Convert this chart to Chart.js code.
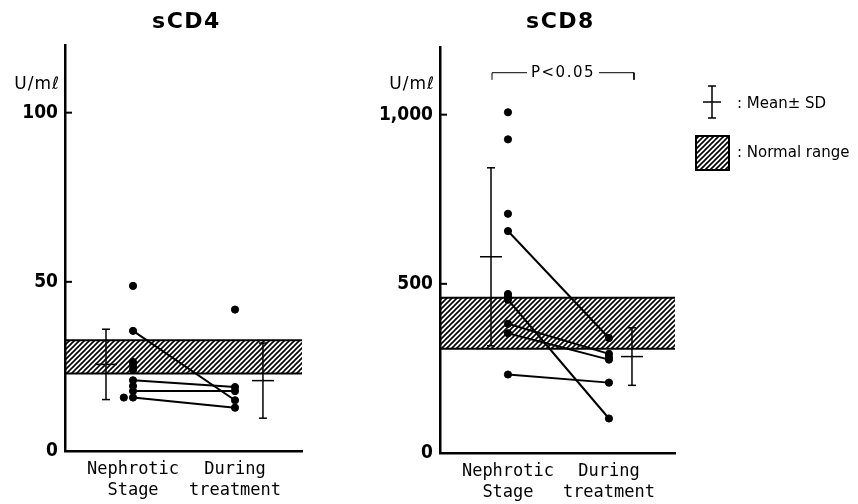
<!DOCTYPE html>
<html>
<head>
  <meta charset="utf-8">
  <title>sCD4 / sCD8</title>
  <script src="https://cdn.jsdelivr.net/npm/chart.js"></script>
  <style>
    * { margin: 0; padding: 0; box-sizing: border-box; }
    html, body { width: 858px; height: 504px; overflow: hidden; background: #fff; }
    #cd4 { position: absolute; left: 0; top: 0; }
    #cd8 { position: absolute; left: 330px; top: 0; }
  </style>
</head>
<body>
  <canvas id="cd4" width="330" height="504"></canvas>
  <canvas id="cd8" width="528" height="504"></canvas>

  <script>
    // categories, x = 1 and 2
    const categories = [["Nephrotic", "Stage"], ["During", "treatment"]];

    // sCD4 (U/mℓ)
    const cd4Nephrotic = [48.8, 35.5, 26.3, 25.2, 24.0, 20.9, 19.2, 17.7, 15.8, 15.8];
    const cd4NephroticX = [1, 1, 1, 1, 1, 1, 1, 1, 1, 0.91];
    const cd4During = [41.8, 18.9, 17.7, 15.0, 12.8];
    const cd4Pairs = [[35.5, 15.0], [20.9, 18.9], [17.7, 17.7], [15.8, 12.8]];
    const cd4Mean = [25.6, 20.8];
    const cd4SD = [10.4, 11.1];
    const cd4Normal = [22.9, 32.7];
    const cd4Ticks = [0, 50, 100];
    const cd4TickLabels = ["0", "50", "100"];

    // sCD8 (U/mℓ)
    const cd8Nephrotic = [1007, 927, 707, 656, 470, 461, 453, 382, 354, 232];
    const cd8During = [340, 293, 283, 276, 208, 102];
    const cd8Pairs = [[656, 340], [453, 102], [382, 293], [354, 276], [232, 208]];
    const cd8Mean = [580, 285];
    const cd8SD = [263, 85];
    const cd8Normal = [308, 459];
    const cd8Ticks = [0, 500, 1000];
    const cd8TickLabels = ["0", "500", "1,000"];
    const cd8PText = "P<0.05";
    const cd8BracketX = [0.842, 2.248];
    const cd8BracketY = [1103, 1124];

    function hatch() {
      const c = document.createElement('canvas');
      c.width = 5; c.height = 5;
      const g = c.getContext('2d');
      g.strokeStyle = '#000';
      g.lineWidth = 1.6;
      g.beginPath();
      g.moveTo(-1, 6); g.lineTo(6, -1);
      g.moveTo(-1, 1); g.lineTo(1, -1);
      g.moveTo(4, 6); g.lineTo(6, 4);
      g.stroke();
      return g.createPattern(c, 'repeat');
    }

    function makeDeco(p) {
      return {
        id: 'deco',
        afterDraw(chart) {
          const { ctx, chartArea: a, scales: { x, y } } = chart;
          ctx.save();
          ctx.fillStyle = '#000';
          ctx.strokeStyle = '#000';

          // title
          ctx.font = 'bold 22px "DejaVu Sans"';
          ctx.letterSpacing = '1.5px';
          ctx.textAlign = 'center';
          ctx.textBaseline = 'middle';
          ctx.fillText(p.title, (a.left + a.right) / 2 + 3, 22);

          // unit
          ctx.font = '17px "DejaVu Sans"';
          ctx.letterSpacing = '1px';
          ctx.textAlign = 'right';
          ctx.fillText('U/mℓ', a.left - 5, 85);

          // inward tick marks
          ctx.lineWidth = 2;
          y.ticks.forEach(t => {
            if (t.value === 0) return;
            const py = y.getPixelForValue(t.value);
            ctx.beginPath();
            ctx.moveTo(a.left, py);
            ctx.lineTo(a.left + 7, py);
            ctx.stroke();
          });

          // significance label
          if (p.pText) {
            ctx.font = '15px "DejaVu Sans"';
            ctx.letterSpacing = '1.5px';
            ctx.textAlign = 'center';
            const cx = x.getPixelForValue((p.bracketX[0] + p.bracketX[1]) / 2);
            const cy = y.getPixelForValue(p.bracketY[1]);
            const w = ctx.measureText(p.pText).width + 8;
            ctx.fillStyle = '#fff';
            ctx.fillRect(cx - w / 2, cy - 8, w, 16);
            ctx.fillStyle = '#000';
            ctx.fillText(p.pText, cx, cy);
          }

          // legend
          if (p.legend) {
            const lx = 382;
            ctx.lineWidth = 1.5;
            ctx.beginPath();
            ctx.moveTo(lx, 86); ctx.lineTo(lx, 118);
            ctx.moveTo(lx - 4, 86); ctx.lineTo(lx + 4, 86);
            ctx.moveTo(lx - 4, 118); ctx.lineTo(lx + 4, 118);
            ctx.moveTo(lx - 9, 102); ctx.lineTo(lx + 9, 102);
            ctx.stroke();

            ctx.fillStyle = hatch();
            ctx.fillRect(366, 136, 33, 34);
            ctx.lineWidth = 2;
            ctx.strokeRect(366, 136, 33, 34);

            ctx.fillStyle = '#000';
            ctx.font = '15px "DejaVu Sans"';
            ctx.letterSpacing = '0px';
            ctx.textAlign = 'left';
            ctx.fillText(': Mean± SD', 407, 104);
            ctx.fillText(': Normal range', 407, 153);
          }
          ctx.restore();
        }
      };
    }

    function panel(id, p) {
      const band = yv => [{ x: p.xMin, y: yv }, { x: p.xMax, y: yv }];
      const datasets = [
        { type: 'line', data: band(p.normal[1]), borderColor: '#000', borderWidth: 2, pointRadius: 0, fill: false, order: 5 },
        { type: 'line', data: band(p.normal[0]), borderColor: '#000', borderWidth: 2, pointRadius: 0, fill: '-1', backgroundColor: hatch(), order: 5 }
      ];

      p.pairs.forEach(pr => datasets.push({
        type: 'line', data: [{ x: 1, y: pr[0] }, { x: 2, y: pr[1] }],
        borderColor: '#000', borderWidth: 2, pointRadius: 0, order: 2
      }));

      p.mean.forEach((m, i) => {
        datasets.push({
          type: 'line', data: [{ x: p.meanX[i], y: m - p.sd[i] }, { x: p.meanX[i], y: m + p.sd[i] }],
          borderColor: '#000', borderWidth: 1.5, pointStyle: 'line', pointRadius: 4,
          pointBorderWidth: 1.5, pointBorderColor: '#000', order: 3
        });
        datasets.push({
          type: 'scatter', data: [{ x: p.meanX[i], y: m }],
          pointStyle: 'line', pointRadius: 11, borderWidth: 1.5, borderColor: '#000', order: 3
        });
      });

      const pts = p.neph.map((v, i) => ({ x: p.nephX ? p.nephX[i] : 1, y: v }))
        .concat(p.during.map(v => ({ x: 2, y: v })));
      datasets.push({
        type: 'scatter', data: pts, pointRadius: 3.6,
        backgroundColor: '#000', borderColor: '#000', borderWidth: 1, order: 0
      });

      if (p.bracketX) {
        datasets.push({
          type: 'line',
          data: [
            { x: p.bracketX[0], y: p.bracketY[0] }, { x: p.bracketX[0], y: p.bracketY[1] },
            { x: p.bracketX[1], y: p.bracketY[1] }, { x: p.bracketX[1], y: p.bracketY[0] }
          ],
          borderColor: '#000', borderWidth: 1, pointRadius: 0, order: 1
        });
      }

      return new Chart(document.getElementById(id), {
        type: 'scatter',
        data: { datasets },
        options: {
          responsive: false,
          animation: false,
          events: [],
          layout: { padding: { top: p.padTop, right: p.padRight, left: 0, bottom: 0 } },
          plugins: { legend: { display: false }, tooltip: { enabled: false } },
          scales: {
            x: {
              type: 'linear', min: p.xMin, max: p.xMax,
              afterBuildTicks: s => { s.ticks = [{ value: 1 }, { value: 2 }]; },
              afterFit: s => { s.height = p.xAxisH; },
              ticks: {
                callback: (v, i) => categories[i],
                font: { family: 'DejaVu Sans Mono', size: 17, lineHeight: 1.25 },
                color: '#000', padding: 8, autoSkip: false, maxRotation: 0
              },
              grid: { drawOnChartArea: false, drawTicks: false },
              border: { display: true, color: '#000', width: 2.5 }
            },
            y: {
              min: 0, max: p.yMax,
              afterBuildTicks: s => { s.ticks = p.ticks.map(v => ({ value: v })); },
              afterFit: s => { s.width = p.yAxisW; },
              ticks: {
                callback: (v, i) => p.tickLabels[i],
                font: { family: "'Liberation Sans Narrow', 'DejaVu Sans Condensed', sans-serif", size: 19, weight: 'bold' },
                color: '#000', padding: 7
              },
              grid: { drawOnChartArea: false, drawTicks: false },
              border: { display: true, color: '#000', width: 2.5 }
            }
          }
        },
        plugins: [makeDeco(p)]
      });
    }

    panel('cd4', {
      title: 'sCD4',
      neph: cd4Nephrotic, nephX: cd4NephroticX, during: cd4During, pairs: cd4Pairs,
      mean: cd4Mean, sd: cd4SD, meanX: [0.735, 2.274], normal: cd4Normal,
      ticks: cd4Ticks, tickLabels: cd4TickLabels,
      xMin: 0.333, xMax: 2.657, yMax: 120,
      padTop: 45, padRight: 28, xAxisH: 53, yAxisW: 65
    });

    panel('cd8', {
      title: 'sCD8',
      neph: cd8Nephrotic, during: cd8During, pairs: cd8Pairs,
      mean: cd8Mean, sd: cd8SD, meanX: [0.832, 2.228], normal: cd8Normal,
      ticks: cd8Ticks, tickLabels: cd8TickLabels,
      pText: cd8PText, bracketX: cd8BracketX, bracketY: cd8BracketY,
      xMin: 0.327, xMax: 2.654, yMax: 1200,
      padTop: 47, padRight: 183, xAxisH: 51, yAxisW: 110,
      legend: true
    });
  </script>
</body>
</html>
